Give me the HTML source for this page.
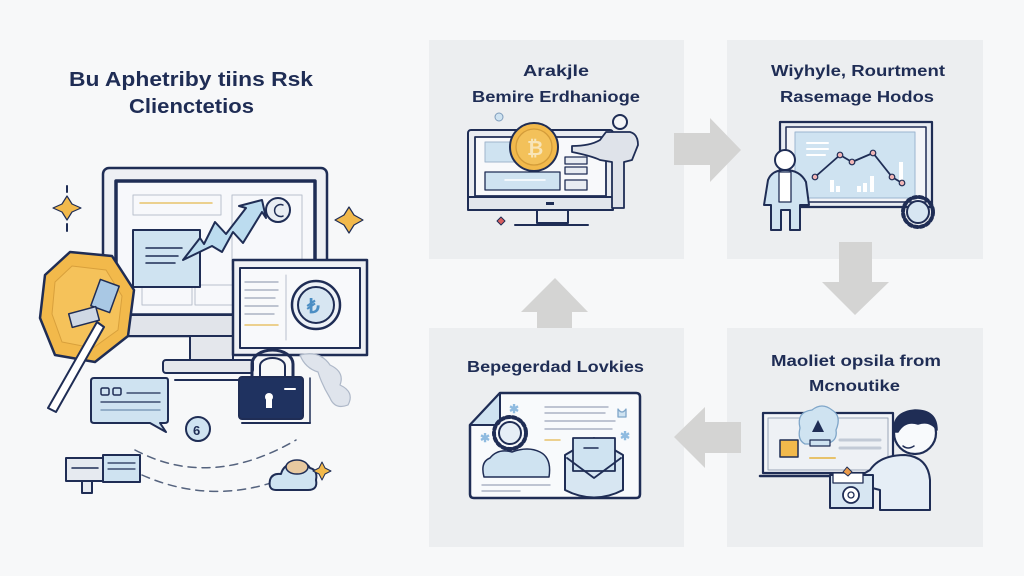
<!DOCTYPE html>
<html><head><meta charset="utf-8"><style>
html,body{margin:0;padding:0;background:#f7f8f9;}
svg{display:block;}
text{font-family:"Liberation Sans",sans-serif;font-weight:bold;fill:#1f2d55;}
</style></head><body>
<svg width="1024" height="576" viewBox="0 0 1024 576" xmlns="http://www.w3.org/2000/svg">
<rect width="1024" height="576" fill="#f7f8f9"/>

<!-- panels -->
<rect x="429" y="40" width="255" height="219" fill="#eceef0"/>
<rect x="727" y="40" width="256" height="219" fill="#eceef0"/>
<rect x="429" y="328" width="255" height="219" fill="#eceef0"/>
<rect x="727" y="328" width="256" height="219" fill="#eceef0"/>

<!-- arrows -->
<polygon points="674,133 710,133 710,118 741,150 710,182 710,165 674,165" fill="#d4d4d3"/>
<polygon points="839,242 872,242 872,282 889,282 855,315 822,282 839,282" fill="#d4d4d3"/>
<polygon points="741,422 705,422 705,407 674,437 705,468 705,453 741,453" fill="#d4d4d3"/>
<polygon points="537,328 572,328 572,312 588,312 555,278 521,312 537,312" fill="#d4d4d3"/>

<!-- titles -->
<text x="69" y="86" font-size="20" textLength="244" lengthAdjust="spacingAndGlyphs">Bu Aphetriby tiins Rsk</text>
<text x="129" y="113" font-size="20" textLength="125" lengthAdjust="spacingAndGlyphs">Clienctetios</text>

<text x="523" y="76" font-size="16" textLength="66" lengthAdjust="spacingAndGlyphs">Arakjle</text>
<text x="472" y="102" font-size="16" textLength="168" lengthAdjust="spacingAndGlyphs">Bemire Erdhanioge</text>
<text x="771" y="76" font-size="16" textLength="174" lengthAdjust="spacingAndGlyphs">Wiyhyle, Rourtment</text>
<text x="780" y="102" font-size="16" textLength="154" lengthAdjust="spacingAndGlyphs">Rasemage Hodos</text>
<text x="467" y="372" font-size="16" textLength="177" lengthAdjust="spacingAndGlyphs">Bepegerdad Lovkies</text>
<text x="771" y="366" font-size="16" textLength="170" lengthAdjust="spacingAndGlyphs">Maoliet opsila from</text>
<text x="809" y="391" font-size="16" textLength="91" lengthAdjust="spacingAndGlyphs">Mcnoutike</text>

<!-- ============ LEFT ILLUSTRATION ============ -->
<g stroke="#1f2d55" stroke-linejoin="round" stroke-linecap="round">
  <!-- main monitor -->
  <rect x="103" y="168" width="224" height="168" rx="6" fill="#eef0f4" stroke-width="2.5"/>
  <rect x="116" y="181" width="199" height="134" fill="#f7f8fb" stroke-width="3.5"/>
  <rect x="103" y="315" width="224" height="21" fill="#e1e4ea" stroke-width="2"/>
  <rect x="190" y="336" width="43" height="24" fill="#e4e7ec" stroke-width="2"/>
  <rect x="163" y="360" width="90" height="13" rx="3" fill="#e4e7ec" stroke-width="2"/>
  <line x1="175" y1="380" x2="240" y2="380" stroke-width="2"/>
  <!-- screen inner lines -->
  <rect x="133" y="195" width="88" height="20" fill="none" stroke="#b9c0cc" stroke-width="1"/>
  <line x1="140" y1="203" x2="212" y2="203" stroke="#e7c26b" stroke-width="1.5"/>
  <rect x="232" y="195" width="70" height="75" fill="none" stroke="#b9c0cc" stroke-width="1"/>
  <rect x="142" y="285" width="50" height="20" fill="none" stroke="#b9c0cc" stroke-width="1"/>
  <rect x="195" y="285" width="45" height="20" fill="none" stroke="#b9c0cc" stroke-width="1"/>
  <!-- blue card -->
  <rect x="133" y="230" width="67" height="57" fill="#cfe3f1" stroke-width="2"/>
  <line x1="146" y1="248" x2="182" y2="248" stroke-width="1.5"/>
  <line x1="146" y1="256" x2="178" y2="256" stroke-width="1.5"/>
  <line x1="146" y1="263" x2="175" y2="263" stroke-width="1.5"/>
  <!-- zigzag arrow -->
  <polygon points="183,260 200,238 204,244 215,222 226,234 246,208 239,206 262,200 266,218 262,212 243,243 233,232 222,252 212,246" fill="#bcdcef" stroke-width="2"/>
  <circle cx="278" cy="210" r="12" fill="#e9edf3" stroke-width="2"/>
  <path d="M283 205 A6 6 0 1 0 283 216" fill="none" stroke-width="1.5"/>
  <!-- second monitor -->
  <rect x="233" y="260" width="134" height="95" fill="#eef0f4" stroke-width="2.5"/>
  <rect x="240" y="268" width="120" height="80" fill="#f8f9fb" stroke-width="2"/>
  <line x1="286" y1="275" x2="286" y2="340" stroke="#b9c0cc" stroke-width="1"/>
  <line x1="245" y1="282" x2="278" y2="282" stroke="#9aa5b8" stroke-width="1.3"/>
  <line x1="245" y1="290" x2="278" y2="290" stroke="#9aa5b8" stroke-width="1.3"/>
  <line x1="245" y1="298" x2="275" y2="298" stroke="#9aa5b8" stroke-width="1.3"/>
  <line x1="245" y1="306" x2="278" y2="306" stroke="#9aa5b8" stroke-width="1.3"/>
  <line x1="245" y1="314" x2="274" y2="314" stroke="#9aa5b8" stroke-width="1.3"/>
  <line x1="245" y1="325" x2="278" y2="325" stroke="#e7c26b" stroke-width="1.5"/>
  <circle cx="316" cy="305" r="24" fill="#eef2f7" stroke-width="2.5"/>
  <circle cx="316" cy="305" r="18" fill="#d7e6f2" stroke-width="2"/>
  <text x="307" y="313" font-size="20" fill="#4b8ec4" stroke="none" style="fill:#4b8ec4">₺</text>
  <!-- hexagon coin -->
  <polygon points="70,252 112,256 134,290 128,336 95,362 55,355 40,318 45,275" fill="#f2b94b" stroke-width="2.5"/>
  <polygon points="72,266 106,270 122,296 118,330 93,348 62,342 52,314 55,282" fill="#f5c25a" stroke="#d8a03c" stroke-width="1"/>
  <rect x="95" y="282" width="20" height="28" fill="#a9c8e4" stroke-width="1.5" transform="rotate(20 105 296)"/>
  <rect x="70" y="310" width="28" height="14" fill="#cfd8e4" stroke-width="1.5" transform="rotate(-15 84 317)"/>
  <!-- wand -->
  <polygon points="97,322 104,327 56,412 48,408" fill="#ffffff" stroke-width="2"/>
  <!-- sparkles -->
  <path d="M67 196 L72 204 L81 208 L72 212 L67 220 L62 212 L53 208 L62 204 Z" fill="#f2b94b" stroke-width="1.2"/>
  <line x1="67" y1="186" x2="67" y2="192" stroke-width="2"/>
  <line x1="67" y1="224" x2="67" y2="231" stroke-width="2"/>
  <path d="M349 207 L354 215 L363 220 L354 225 L349 233 L344 225 L335 220 L344 215 Z" fill="#f2b94b" stroke-width="1.2"/>
  <!-- speech bubble -->
  <path d="M94 378 H166 Q168 378 168 381 V420 Q168 423 165 423 H160 L166 432 L150 423 H94 Q91 423 91 420 V381 Q91 378 94 378 Z" fill="#cfe3f1" stroke-width="2"/>
  <rect x="101" y="388" width="8" height="7" rx="1.5" fill="none" stroke-width="1.5"/>
  <rect x="113" y="388" width="8" height="7" rx="1.5" fill="none" stroke-width="1.5"/>
  <line x1="127" y1="393" x2="160" y2="393" stroke-width="1.3"/>
  <line x1="101" y1="402" x2="160" y2="402" stroke-width="1.3"/>
  <line x1="101" y1="410" x2="160" y2="410" stroke="#6f8fb0" stroke-width="1.3"/>
  <!-- small coin -->
  <circle cx="198" cy="429" r="12" fill="#cfe3f1" stroke-width="2"/>
  <text x="193" y="435" font-size="13" stroke="none">6</text>
  <!-- lock -->
  <path d="M252 378 V364 A20.5 14 0 0 1 293 364 V378" fill="none" stroke-width="3"/>
  <path d="M260 378 V366 A12.5 8 0 0 1 285 366 V378" fill="none" stroke-width="2"/>
  <rect x="239" y="377" width="64" height="42" rx="3" fill="#1f3260" stroke-width="2"/>
  <circle cx="269" cy="397" r="4" fill="#ffffff" stroke="none"/>
  <rect x="266" y="399" width="6" height="9" fill="#ffffff" stroke="none"/>
  <line x1="285" y1="389" x2="295" y2="389" stroke="#ffffff" stroke-width="2"/>
  <line x1="242" y1="423" x2="310" y2="423" stroke-width="2"/>
  <line x1="310" y1="378" x2="310" y2="423" stroke-width="1.5"/>
  <!-- smoke -->
  <path d="M300 355 Q320 350 330 365 Q345 372 340 385 Q355 392 348 405 Q335 410 330 398 Q322 385 318 372 Q305 368 300 355 Z" fill="#dfe4ec" stroke="#aeb8c8" stroke-width="1.2"/>
  <!-- dashed arcs -->
  <path d="M135 450 Q210 490 296 440" fill="none" stroke="#55637e" stroke-width="1.5" stroke-dasharray="8 6"/>
  <path d="M142 475 Q210 505 280 480" fill="none" stroke="#55637e" stroke-width="1.5" stroke-dasharray="8 6"/>
  <!-- small device -->
  <rect x="66" y="458" width="40" height="23" fill="#e6eaf0" stroke-width="2"/>
  <rect x="82" y="481" width="10" height="12" fill="#e6eaf0" stroke-width="2"/>
  <rect x="103" y="455" width="37" height="27" fill="#cfe3f1" stroke-width="2"/>
  <line x1="108" y1="463" x2="135" y2="463" stroke-width="1.2"/>
  <line x1="108" y1="469" x2="135" y2="469" stroke-width="1.2"/>
  <line x1="72" y1="468" x2="98" y2="468" stroke-width="1.5"/>
  <!-- cloud -->
  <path d="M276 490 Q268 490 270 480 Q272 473 281 474 Q284 463 296 464 Q305 460 310 468 Q318 470 316 480 Q318 490 308 490 Z" fill="#cfe3f1" stroke-width="2"/>
  <ellipse cx="297" cy="467" rx="11" ry="7" fill="#e8c9a0" stroke-width="1.5"/>
  <path d="M322 462 L325 468 L331 471 L325 474 L322 480 L319 474 L313 471 L319 468 Z" fill="#f2b94b" stroke-width="1"/>
</g>

<!-- ============ TOP-LEFT PANEL ============ -->
<g stroke="#1f2d55" stroke-linejoin="round" stroke-linecap="round">
  <rect x="468" y="130" width="145" height="80" rx="3" fill="#e9ecf1" stroke-width="2"/>
  <rect x="475" y="137" width="131" height="59" fill="#f8f9fb" stroke-width="1.8"/>
  <rect x="468" y="197" width="145" height="13" fill="#e2e6ec" stroke-width="2"/>
  <rect x="546" y="202" width="8" height="3" fill="#1f2d55" stroke="none"/>
  <rect x="537" y="210" width="31" height="13" fill="#e9ecf1" stroke-width="2"/>
  <line x1="515" y1="225" x2="588" y2="225" stroke-width="2"/>
  <rect x="485" y="142" width="30" height="20" fill="#cfe3f1" stroke="#9fb5cc" stroke-width="1"/>
  <rect x="485" y="172" width="75" height="18" fill="#cfe3f1" stroke-width="1.3"/>
  <line x1="505" y1="180" x2="545" y2="180" stroke="#ffffff" stroke-width="1.5"/>
  <rect x="565" y="157" width="22" height="7" fill="#e8ecf2" stroke-width="1.3"/>
  <rect x="565" y="167" width="22" height="7" fill="#e8ecf2" stroke-width="1.3"/>
  <rect x="565" y="180" width="22" height="10" fill="#e8ecf2" stroke-width="1.3"/>
  <circle cx="534" cy="147" r="24" fill="#f2b94b" stroke-width="2"/>
  <circle cx="534" cy="147" r="18" fill="#f3c15a" stroke="#d39c3a" stroke-width="1.3"/>
  <text x="527" y="155" font-size="20" stroke="none" style="fill:#f8e5b8">₿</text>
  <!-- person -->
  <circle cx="620" cy="122" r="7" fill="#f4f5f7" stroke-width="2"/>
  <path d="M606 132 H630 Q638 134 638 145 L632 160 L624 162 V208 H612 V162 L600 160 Q592 156 572 152 L572 146 Q590 146 600 140 Z" fill="#dfe3ea" stroke-width="1.8"/>
  <circle cx="499" cy="117" r="4" fill="#cfe3f1" stroke="#7e9cbb" stroke-width="1"/>
  <path d="M497 221 l4 -4 l4 4 l-4 4 z" fill="#d95f5f" stroke-width="1"/>
</g>

<!-- ============ TOP-RIGHT PANEL ============ -->
<g stroke="#1f2d55" stroke-linejoin="round" stroke-linecap="round">
  <rect x="780" y="122" width="152" height="85" fill="#e8ecf2" stroke-width="2.2"/>
  <rect x="786" y="127" width="140" height="75" fill="#f3f5f8" stroke-width="1.5"/>
  <rect x="795" y="132" width="120" height="66" fill="#cfe3f1" stroke="#9bb5cf" stroke-width="1"/>
  <line x1="807" y1="143" x2="828" y2="143" stroke="#ffffff" stroke-width="2"/>
  <line x1="807" y1="149" x2="828" y2="149" stroke="#ffffff" stroke-width="2"/>
  <line x1="807" y1="155" x2="825" y2="155" stroke="#ffffff" stroke-width="2"/>
  <g fill="#ffffff" stroke="none">
    <rect x="830" y="180" width="4" height="12"/><rect x="836" y="186" width="4" height="6"/>
    <rect x="857" y="186" width="4" height="6"/><rect x="863" y="183" width="4" height="9"/>
    <rect x="870" y="176" width="4" height="16"/><rect x="899" y="162" width="4" height="22"/>
  </g>
  <polyline points="815,177 840,155 852,162 873,153 892,177 902,183" fill="none" stroke-width="1.8"/>
  <g fill="#f0b5b5" stroke-width="1.2">
    <circle cx="815" cy="177" r="2.8"/><circle cx="840" cy="155" r="2.8"/><circle cx="852" cy="162" r="2.8"/>
    <circle cx="873" cy="153" r="2.8"/><circle cx="892" cy="177" r="2.8"/><circle cx="902" cy="183" r="2.8"/>
  </g>
  <!-- person -->
  <path d="M768 180 Q772 170 785 170 Q800 170 806 182 L809 205 H800 V230 H790 V210 H781 V230 H771 V205 H764 Z" fill="#cfe3f1" stroke-width="2"/>
  <rect x="779" y="172" width="12" height="30" fill="#ffffff" stroke-width="1.3"/>
  <circle cx="785" cy="160" r="10" fill="#ffffff" stroke-width="2"/>
  <!-- gear -->
  <circle cx="918" cy="212" r="15" fill="none" stroke-width="4" stroke-dasharray="3 3"/>
  <circle cx="918" cy="212" r="11" fill="#d7e6f2" stroke-width="2"/>
</g>

<!-- ============ BOTTOM-LEFT PANEL ============ -->
<g stroke="#1f2d55" stroke-linejoin="round" stroke-linecap="round">
  <path d="M500 393 H636 Q640 393 640 397 V494 Q640 498 636 498 H474 Q470 498 470 494 V425 Z" fill="#f8fafc" stroke-width="2.5"/>
  <path d="M500 393 V420 Q500 425 495 425 H470 Z" fill="#cfe3f1" stroke-width="2"/>
  <line x1="545" y1="407" x2="608" y2="407" stroke="#9aa5b8" stroke-width="1.3"/>
  <line x1="545" y1="413" x2="605" y2="413" stroke="#9aa5b8" stroke-width="1.3"/>
  <line x1="545" y1="421" x2="615" y2="421" stroke="#9aa5b8" stroke-width="1.3"/>
  <line x1="545" y1="429" x2="612" y2="429" stroke="#9aa5b8" stroke-width="1.3"/>
  <line x1="545" y1="440" x2="560" y2="440" stroke="#e7c26b" stroke-width="1.5"/>
  <line x1="482" y1="485" x2="550" y2="485" stroke="#9aa5b8" stroke-width="1.3"/>
  <line x1="482" y1="491" x2="520" y2="491" stroke="#9aa5b8" stroke-width="1.3"/>
  <circle cx="510" cy="433" r="16" fill="none" stroke-width="4" stroke-dasharray="3 3"/>
  <circle cx="510" cy="433" r="11" fill="#e6eef6" stroke-width="2"/>
  <path d="M484 477 Q480 462 490 458 Q498 448 512 452 Q528 446 540 452 Q552 458 549 477 Z" fill="#cfe3f1" stroke-width="1.5"/>
  <path d="M565 455 L594 438 L623 455 V490 Q594 505 565 490 Z" fill="#d7e6f2" stroke-width="2"/>
  <rect x="573" y="438" width="42" height="33" fill="#cfe3f1" stroke-width="1.8"/>
  <polyline points="567,458 594,478 621,458" fill="none" stroke-width="1.8"/>
  <line x1="584" y1="448" x2="598" y2="448" stroke-width="1.5"/>
  <g fill="#a9cbe6" stroke="none" font-size="12">
    <text x="509" y="413" style="fill:#8fbbe0">✱</text>
    <text x="480" y="442" style="fill:#8fbbe0">✱</text>
    <text x="620" y="440" style="fill:#8fbbe0">✱</text>
  </g>
  <path d="M618 409 q4 6 8 0 v8 h-8 z" fill="#cfe3f1" stroke="#7fa6c9" stroke-width="1.3"/>
</g>

<!-- ============ BOTTOM-RIGHT PANEL ============ -->
<g stroke="#1f2d55" stroke-linejoin="round" stroke-linecap="round">
  <rect x="763" y="413" width="130" height="60" fill="#f3f5f8" stroke-width="2.2"/>
  <rect x="768" y="418" width="120" height="52" fill="#eef1f5" stroke="#9aa5b8" stroke-width="1"/>
  <line x1="760" y1="476" x2="895" y2="476" stroke-width="2.5"/>
  <line x1="840" y1="440" x2="880" y2="440" stroke="#c2cad6" stroke-width="3"/>
  <line x1="840" y1="448" x2="880" y2="448" stroke="#c2cad6" stroke-width="3"/>
  <line x1="810" y1="458" x2="835" y2="458" stroke="#e7c26b" stroke-width="2"/>
  <rect x="780" y="440" width="18" height="17" fill="#f2b94b" stroke-width="1.5"/>
  <path d="M800 428 Q796 412 812 410 Q822 402 832 410 Q842 416 836 430 Q838 442 825 444 H805 Q797 440 800 428 Z" fill="#cfe3f1" stroke="#7fa6c9" stroke-width="1.3"/>
  <path d="M812 432 L818 420 L824 432 Z" fill="#1f2d55" stroke="none"/>
  <rect x="810" y="440" width="20" height="6" fill="#cfe3f1" stroke-width="1.2"/>
  <!-- person -->
  <path d="M870 470 Q880 455 905 455 Q928 457 930 480 V510 H880 V490 Q872 488 858 484 L860 476 Z" fill="#e6eef6" stroke-width="2"/>
  <circle cx="915" cy="433" r="21" fill="#f8fafc" stroke-width="2.2"/>
  <path d="M894 432 Q892 412 915 410 Q937 410 937 430 Q930 420 918 424 Q905 420 898 432 Z" fill="#1f2d55" stroke-width="1.5"/>
  <path d="M903 446 Q908 450 914 446" fill="none" stroke-width="1.5"/>
  <!-- box -->
  <rect x="830" y="475" width="43" height="33" fill="#d7e6f2" stroke-width="2"/>
  <rect x="833" y="473" width="30" height="10" fill="#ffffff" stroke-width="1.3"/>
  <circle cx="851" cy="495" r="8" fill="#ffffff" stroke-width="1.8"/>
  <circle cx="851" cy="495" r="3" fill="none" stroke-width="1.3"/>
  <path d="M843 472 l4 -5 l5 5 l-4 4 z" fill="#e99a4a" stroke-width="1"/>
</g>
</svg>
</body></html>
